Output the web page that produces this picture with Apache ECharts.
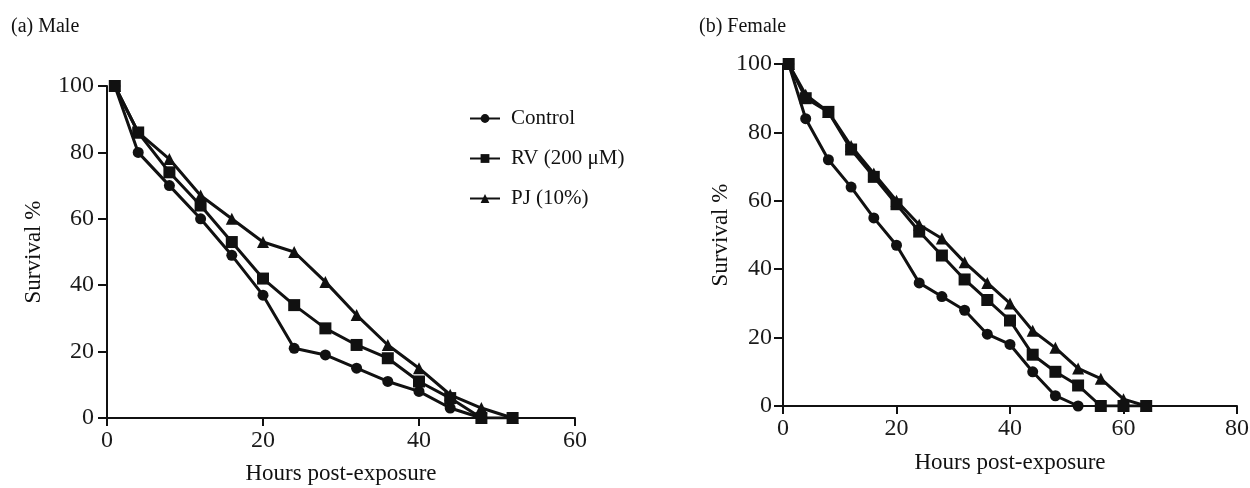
<!DOCTYPE html>
<html>
<head>
<meta charset="utf-8">
<script src="https://cdn.jsdelivr.net/npm/echarts@6/dist/echarts.min.js"></script>
<style>
  html, body { margin: 0; padding: 0; background: #fff; }
  #chart { width: 1250px; height: 488px; }
</style>
</head>
<body>
<div id="chart"></div>
<script>
// Survival over time after exposure, males and females
const seriesNames = ['Control', 'RV (200 μM)', 'PJ (10%)'];

const maleHours = [1, 4, 8, 12, 16, 20, 24, 28, 32, 36, 40, 44, 48, 52];
const maleControl = [100, 80, 70, 60, 49, 37, 21, 19, 15, 11, 8, 3, 0];
const maleRV = [100, 86, 74, 64, 53, 42, 34, 27, 22, 18, 11, 6, 0, 0];
const malePJ = [100, 86, 78, 67, 60, 53, 50, 41, 31, 22, 15, 7, 3, 0];

const femaleHours = [1, 4, 8, 12, 16, 20, 24, 28, 32, 36, 40, 44, 48, 52, 56, 60, 64];
const femaleControl = [100, 84, 72, 64, 55, 47, 36, 32, 28, 21, 18, 10, 3, 0];
const femaleRV = [100, 90, 86, 75, 67, 59, 51, 44, 37, 31, 25, 15, 10, 6, 0, 0, 0];
const femalePJ = [100, 91, 86, 76, 68, 60, 53, 49, 42, 36, 30, 22, 17, 11, 8, 2, 0];

const yTicks = [0, 20, 40, 60, 80, 100];

const FONT = '"Liberation Serif", "DejaVu Serif", serif';
const INK = '#111';

function pairs(hours, values) {
  return values.map((v, i) => [hours[i], v]);
}

function lineSeries(name, idx, data, symbol, size) {
  return {
    name: name,
    type: 'line',
    xAxisIndex: idx,
    yAxisIndex: idx,
    data: data,
    symbol: symbol,
    symbolSize: size,
    showSymbol: true,
    animation: false,
    lineStyle: { color: INK, width: 3 },
    itemStyle: { color: INK, borderColor: INK, borderWidth: 0 },
    emphasis: { disabled: true }
  };
}

function xAxis(idx, max, nameGap) {
  return {
    type: 'value', gridIndex: idx, min: 0, max: max, interval: 20,
    name: 'Hours post-exposure', nameLocation: 'middle', nameGap: nameGap,
    nameTextStyle: { fontFamily: FONT, fontSize: 23, color: INK },
    splitLine: { show: false },
    axisLine: { show: true, onZero: false, lineStyle: { color: INK, width: 2 } },
    axisTick: { show: true, inside: false, length: 8, lineStyle: { color: INK, width: 2 } },
    axisLabel: { fontFamily: FONT, fontSize: 24, color: '#1a1a1a', margin: 11 }
  };
}

function yAxis(idx, nameGap, labelMargin) {
  return {
    type: 'value', gridIndex: idx, min: 0, max: 100, interval: 20,
    name: 'Survival %', nameLocation: 'middle', nameGap: nameGap, nameRotate: 90,
    nameTextStyle: { fontFamily: FONT, fontSize: 23, color: INK },
    splitLine: { show: false },
    axisLine: { show: true, onZero: false, lineStyle: { color: INK, width: 2 } },
    axisTick: { show: true, inside: false, length: 9, lineStyle: { color: INK, width: 2 } },
    axisLabel: {
      fontFamily: FONT, fontSize: 24, color: '#1a1a1a', margin: labelMargin,
      formatter: v => (yTicks.indexOf(v) >= 0 ? String(v) : '')
    }
  };
}

const chart = echarts.init(document.getElementById('chart'), null, { renderer: 'canvas' });

chart.setOption({
  backgroundColor: '#fff',
  animation: false,
  title: [
    { text: '(a) Male', left: 6, top: 12, textStyle: { fontFamily: FONT, fontSize: 20, fontWeight: 'normal', color: INK } },
    { text: '(b) Female', left: 694, top: 12, textStyle: { fontFamily: FONT, fontSize: 20, fontWeight: 'normal', color: INK } }
  ],
  legend: {
    data: seriesNames,
    orient: 'vertical',
    left: 464, top: 103,
    itemWidth: 30, itemHeight: 11, itemGap: 19,
    textStyle: { fontFamily: FONT, fontSize: 21, color: INK, padding: [0, 0, 0, 6] },
    selectedMode: false
  },
  grid: [
    { left: 107, top: 86, width: 468, height: 332, outerBoundsMode: 'none', containLabel: false },
    { left: 783, top: 64, width: 454, height: 342, outerBoundsMode: 'none', containLabel: false }
  ],
  xAxis: [xAxis(0, 60, 44), xAxis(1, 80, 45)],
  yAxis: [yAxis(0, 62, 13), yAxis(1, 42, 11)],
  series: [
    lineSeries(seriesNames[0], 0, pairs(maleHours, maleControl), 'circle', 11),
    lineSeries(seriesNames[2], 0, pairs(maleHours, malePJ), 'triangle', 12),
    lineSeries(seriesNames[1], 0, pairs(maleHours, maleRV), 'rect', 12),
    lineSeries(seriesNames[0], 1, pairs(femaleHours, femaleControl), 'circle', 11),
    lineSeries(seriesNames[2], 1, pairs(femaleHours, femalePJ), 'triangle', 12),
    lineSeries(seriesNames[1], 1, pairs(femaleHours, femaleRV), 'rect', 12)
  ]
});
</script>
</body>
</html>
